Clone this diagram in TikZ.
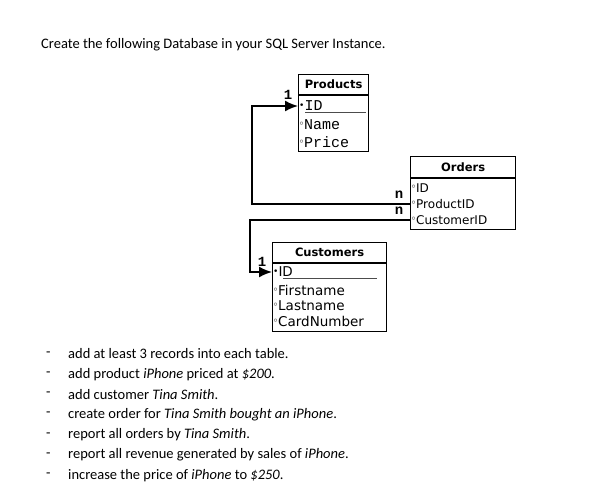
\documentclass[tikz,border=0pt]{standalone}
\usepackage{fontspec}
\setmainfont{Carlito}
\newfontfamily\tblfont{DejaVu Sans}
\newfontfamily\codefont{Liberation Mono}
\usetikzlibrary{arrows.meta,positioning}
\tikzset{>={Latex[length=13pt,width=11pt]}}
\tikzset{
  tblhead/.style={draw, line width=1.2pt, anchor=north west, inner sep=0pt,
    minimum height=20pt, font=\tblfont\bfseries\fontsize{11.5}{13}\selectfont},
  tblbody/.style={draw, line width=1.2pt, anchor=north west, inner sep=0pt},
  field/.style={anchor=west, inner sep=0pt},
  keyline/.style={line width=0.8pt, black!70},
  rel/.style={->, line width=1.7pt},
  card/.style={inner sep=0pt, font=\codefont\bfseries\fontsize{14}{14}\selectfont},
  task/.style={anchor=west, inner sep=0pt, font=\fontsize{14.5}{17}\selectfont}
}
% key and column markers
\newcommand{\pkmark}{\raisebox{0.3ex}{\tblfont\fontsize{9}{9}\selectfont\textbullet}}
\newcommand{\colmark}{\textcolor{black!55}{\tblfont\fontsize{10}{10}\selectfont °}}
\begin{document}
\begin{tikzpicture}[x=1pt,y=-1pt]
  \fill[white] (0,0) rectangle (601,503);
  \useasboundingbox (0,0) rectangle (601,503);
  \node[task] (title) at (41,45) {Create the following Database in your SQL Server Instance.};

  % Products
  \node[tblhead, minimum width=70pt] (prodhead) at (298,74) {Products};
  \node[tblbody, minimum width=70pt, minimum height=56pt] (prodbody) at (prodhead.south west) {};
  \begin{scope}[every node/.style={field, font=\codefont\fontsize{15}{15}\selectfont}]
    \node (prodid) at (299,106) {\pkmark ID};
    \node (prodname) at (299,125) {\colmark Name};
    \node (prodprice) at (299,142) {\colmark Price};
  \end{scope}
  \draw[keyline] (305,112) -- (366,112);

  % Orders
  \node[tblhead, minimum width=105pt, minimum height=21pt] (ordhead) at (410,156) {Orders};
  \node[tblbody, minimum width=105pt, minimum height=51pt] (ordbody) at (ordhead.south west) {};
  \begin{scope}[every node/.style={field, font=\tblfont\fontsize{12}{12}\selectfont}]
    \node (ordid) at (411,188) {\colmark ID};
    \node (ordpid) at (411,204) {\colmark ProductID};
    \node (ordcid) at (411,220) {\colmark CustomerID};
  \end{scope}

  % Customers
  \node[tblhead, minimum width=114pt] (custhead) at (272,242) {Customers};
  \node[tblbody, minimum width=114pt, minimum height=68pt] (custbody) at (custhead.south west) {};
  \begin{scope}[every node/.style={field, font=\tblfont\fontsize{13.5}{13.5}\selectfont}]
    \node (custid) at (273,272) {\pkmark ID};
    \node (custfirst) at (273,290) {\colmark Firstname};
    \node (custlast) at (273,306) {\colmark Lastname};
    \node (custcard) at (273,321) {\colmark CardNumber};
  \end{scope}
  \draw[keyline] (283,278) -- (377,278);

  % relations
  \coordinate (bendp) at (252,0);
  \coordinate (bendc) at (250,0);
  \draw[rel] (ordbody.west |- ordpid) -- (bendp |- ordpid) -- (bendp |- prodid)
    -- (prodbody.west |- prodid);
  \draw[rel] (ordbody.west |- ordcid) -- (bendc |- ordcid) -- (bendc |- custid)
    -- (custbody.west |- custid);
  \node[card] (cardp1) at (288,95) {1};
  \node[card] (cardpn) at (399,195) {n};
  \node[card] (cardcn) at (399,211) {n};
  \node[card] (cardc1) at (262,262) {1};

  % tasks
  \foreach \txt [count=\i from 0] in {
    {add at least 3 records into each table.},
    {add product \textit{iPhone} priced at \textit{\$200}.},
    {add customer \textit{Tina Smith}.},
    {create order for \textit{Tina Smith bought an iPhone}.},
    {report all orders by \textit{Tina Smith}.},
    {report all revenue generated by sales of \textit{iPhone}.},
    {increase the price of \textit{iPhone} to \textit{\$250}.}} {
    \node[task] (dash\i) at (46,{354+20.2*\i}) {-};
    \node[task] (task\i) at (68,{354+20.2*\i}) {\txt};
  }
\end{tikzpicture}
\end{document}
